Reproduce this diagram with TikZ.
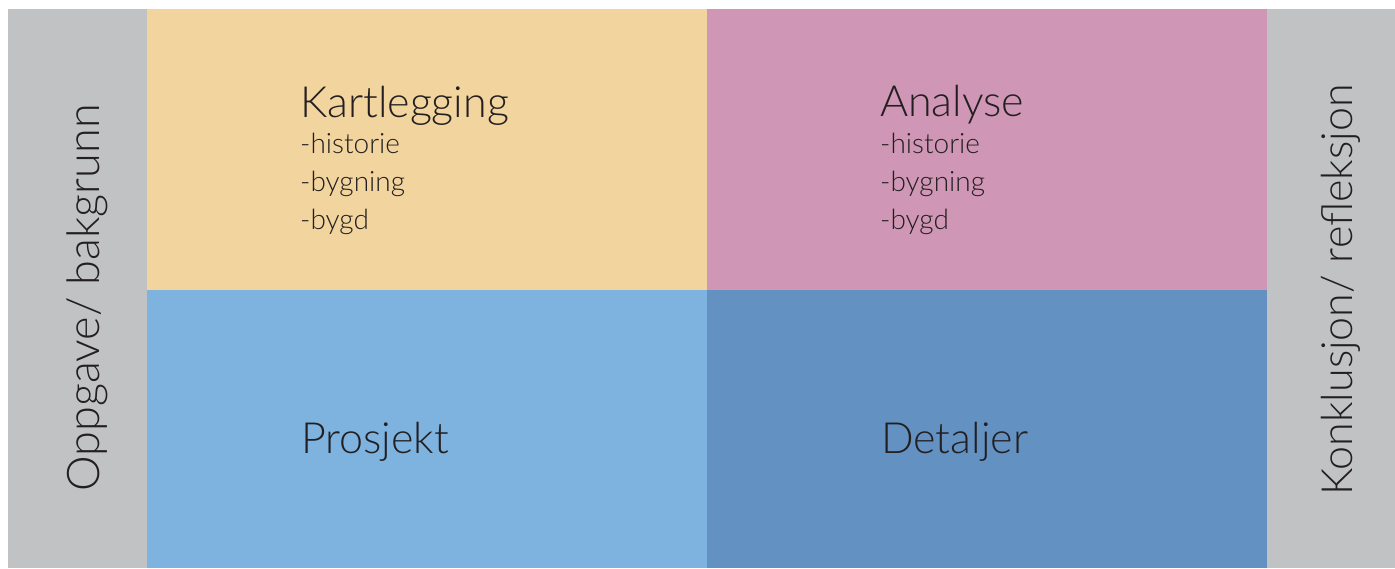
\documentclass[tikz,border=0pt]{standalone}
\usepackage{fontspec}
\setmainfont{Lato Light}
\definecolor{sidegray}{HTML}{C1C2C4}
\definecolor{kartcol}{HTML}{F2D49E}
\definecolor{analysecol}{HTML}{CF97B5}
\definecolor{prosjektcol}{HTML}{7EB2DF}
\definecolor{detaljcol}{HTML}{6291C2}
\definecolor{textcol}{HTML}{231F20}

\begin{document}
\begin{tikzpicture}[x=1pt, y=-1pt, text=textcol,
    head/.style={anchor=base west, inner sep=0pt, font=\fontsize{43}{43}\selectfont},
    item/.style={anchor=base west, inner sep=0pt, font=\fontsize{28}{28}\selectfont},
    side/.style={anchor=base, inner sep=0pt, rotate=90}]
        \fill[white] (0, 0) rectangle (1395, 568);
        \fill[sidegray] (8, 9) rectangle (147, 568);
        \fill[sidegray] (1267, 9) rectangle (1395, 568);
        \fill[kartcol] (147, 9) rectangle (707, 290);
        \fill[analysecol] (707, 9) rectangle (1267, 290);
        \fill[prosjektcol] (147, 290) rectangle (707, 568);
        \fill[detaljcol] (707, 290) rectangle (1267, 568);

        \node[side, font=\fontsize{45}{45}\selectfont](oppgave) at (99, 298) {Oppgave/ bakgrunn};
        \node[side, font=\fontsize{43}{43}\selectfont](konklusjon) at (1352, 290) {Konklusjon/ refleksjon};

        \node[head](kartlegging) at (300, 117) {Kartlegging};
        \node[item](khistorie) at (300, 153) {-historie};
        \node[item](kbygning) at (300, 191) {-bygning};
        \node[item](kbygd) at (300, 229) {-bygd};

        \node[head](analyse) at (880, 116) {Analyse};
        \node[item](ahistorie) at (880, 153) {-historie};
        \node[item](abygning) at (880, 191) {-bygning};
        \node[item](abygd) at (880, 229) {-bygd};

        \node[head](prosjekt) at (301, 453) {Prosjekt};
        \node[head](detaljer) at (881, 453) {Detaljer};
    \end{tikzpicture}
\end{document}
